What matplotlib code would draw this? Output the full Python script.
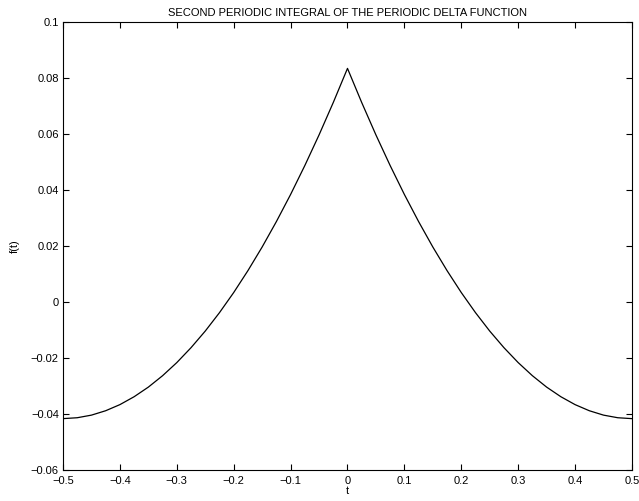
import matplotlib
matplotlib.use("Agg")
import matplotlib.pyplot as plt

# values, step 0.025 in t
t = [-0.5, -0.475, -0.45, -0.425, -0.4, -0.375, -0.35, -0.325, -0.3, -0.275,
     -0.25, -0.225, -0.2, -0.175, -0.15, -0.125, -0.1, -0.075, -0.05, -0.025,
     0.0, 0.025, 0.05, 0.075, 0.1, 0.125, 0.15, 0.175, 0.2, 0.225,
     0.25, 0.275, 0.3, 0.325, 0.35, 0.375, 0.4, 0.425, 0.45, 0.475, 0.5]
f_half = [-0.04167, -0.04135, -0.04042, -0.03885, -0.03667, -0.03385, -0.03042,
          -0.02635, -0.02167, -0.01635, -0.01042, -0.00385, 0.00333, 0.01115,
          0.01958, 0.02865, 0.03833, 0.04865, 0.05958, 0.07115]
f = f_half + [0.08333] + f_half[::-1]

xticks = [-0.5, -0.4, -0.3, -0.2, -0.1, 0, 0.1, 0.2, 0.3, 0.4, 0.5]
xticklabels = ["\u22120.5", "\u22120.4", "\u22120.3", "\u22120.2", "\u22120.1", "0",
               "0.1", "0.2", "0.3", "0.4", "0.5"]
yticks = [-0.06, -0.04, -0.02, 0, 0.02, 0.04, 0.06, 0.08, 0.1]
yticklabels = ["\u22120.06", "\u22120.04", "\u22120.02", "0", "0.02", "0.04",
               "0.06", "0.08", "0.1"]

plt.rcParams['font.family'] = ['Liberation Sans', 'DejaVu Sans']
plt.rcParams['font.size'] = 8

fig = plt.figure(figsize=(6.39, 5.01), dpi=100)
ax = fig.add_axes([0.0986, 0.0619, 0.8904, 0.8948])
ax.plot(t, f, color='black', linewidth=0.9)

ax.set_xlim(-0.5, 0.5)
ax.set_ylim(-0.06, 0.1)
ax.set_xticks(xticks)
ax.set_xticklabels(xticklabels)
ax.set_yticks(yticks)
ax.set_yticklabels(yticklabels)
ax.tick_params(direction='in', top=True, right=True, length=4, width=0.8)
ax.tick_params(axis='x', pad=4)
ax.tick_params(axis='y', pad=3)
for s in ax.spines.values():
    s.set_linewidth(0.8)

ax.set_title("SECOND PERIODIC INTEGRAL OF THE PERIODIC DELTA FUNCTION", fontsize=8, pad=4)
ax.set_xlabel("t", labelpad=0)
ax.set_ylabel("f(t)", labelpad=8)

fig.savefig("out.png", dpi=100)
